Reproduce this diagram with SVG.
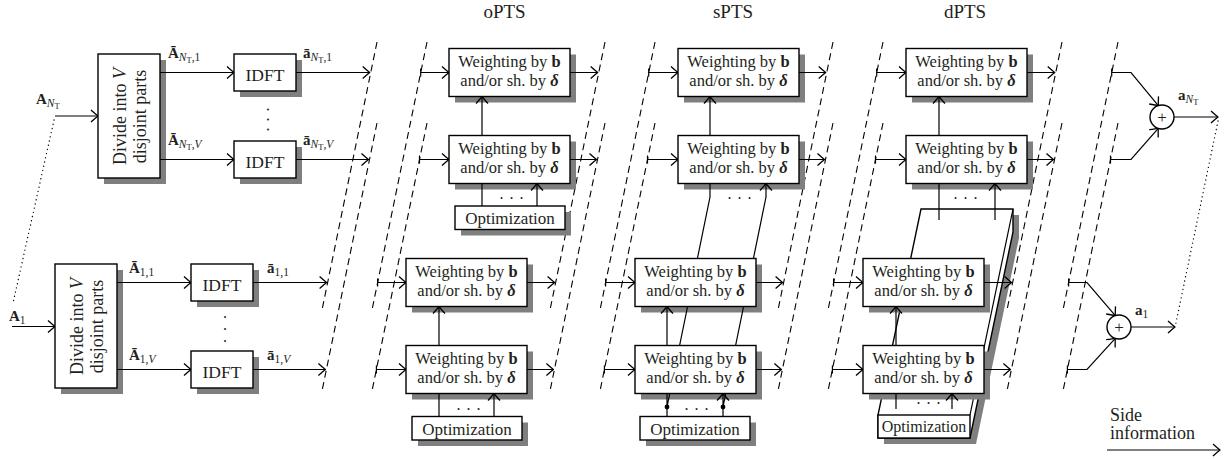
<svg xmlns="http://www.w3.org/2000/svg" width="1225" height="459" viewBox="0 0 1225 459">
<style>
text{font-family:"Liberation Serif","Times New Roman",serif;fill:#231f20}
.box{fill:#fff;stroke:#000;stroke-width:1.4}
.sh{fill:#7f7f7f}
.ln{fill:none;stroke:#000;stroke-width:1.2}
.hd{fill:none;stroke:#000;stroke-width:1.3;stroke-linejoin:round}
.ds{fill:none;stroke:#000;stroke-width:1.1;stroke-dasharray:7 4.5}
.dt{fill:none;stroke:#000;stroke-width:1.3;stroke-dasharray:0.1 4.2;stroke-linecap:round}
.w{font-size:16.5px;text-anchor:middle}
.idft{font-size:17.5px;text-anchor:middle}
.opt{font-size:17px;text-anchor:middle}
.ttl{font-size:19px;text-anchor:middle}
.dv{font-size:18px;text-anchor:middle}
.lb{font-size:15px}
.b{font-weight:bold}
.bi{font-weight:bold;font-style:italic}
.i{font-style:italic}
.s{font-size:11.5px}
.ss{font-size:8.5px}
.dots{font-size:16px;text-anchor:middle;letter-spacing:1px}
.pl{font-size:17px;text-anchor:middle}
</style>
<rect width="1225" height="459" fill="#fff"/>

<g id="titles">
<text class="ttl" x="504.5" y="18">oPTS</text>
<text class="ttl" x="733" y="18">sPTS</text>
<text class="ttl" x="965" y="18">dPTS</text>
</g>

<g id="planes">
<path class="ds" d="M377,42 L322,310 M377,123 L322,391 M427,42 L372,310 M427,123 L372,391"/>
<path class="ds" d="M605,42 L550,310 M605,123 L550,391 M655,42 L600,310 M655,123 L600,391"/>
<path class="ds" d="M833,42 L778,310 M833,123 L778,391 M883,42 L828,310 M883,123 L828,391"/>
<path class="ds" d="M1062,42 L1007,310 M1062,123 L1007,391 M1118,42 L1063,310 M1118,123 L1063,391"/>
<path class="dt" d="M54,120 L13,303"/>
<path class="dt" d="M1218,121 L1175.5,325"/>
</g>

<g id="dpts-optimization">
<polygon class="sh" points="884,444 884,421 927,215 1019,215 1019,238 976,444"/>
<polygon class="box" points="878,438 878,415 921,209 1013,209 1013,232 970,438"/>
<path class="ln" d="M970,415 L1013,209"/>
<rect class="box" x="878" y="415" width="92" height="23"/>
<text class="opt" style="font-size:16px" x="924" y="432">Optimization</text>
</g>

<g id="shadows">
<rect class="sh" x="104" y="60" width="62" height="124"/>
<rect class="sh" x="240" y="60" width="62" height="37"/>
<rect class="sh" x="240" y="147" width="62" height="37"/>
<rect class="sh" x="61" y="270" width="62" height="124"/>
<rect class="sh" x="197" y="270" width="62" height="37"/>
<rect class="sh" x="197" y="357" width="62" height="37"/>
<rect class="sh" x="455" y="54.5" width="121" height="48"/>
<rect class="sh" x="455" y="141.5" width="121" height="48"/>
<rect class="sh" x="461" y="212" width="110" height="23.5"/>
<rect class="sh" x="412" y="264.5" width="121" height="48"/>
<rect class="sh" x="412" y="351.5" width="121" height="48"/>
<rect class="sh" x="418" y="422.5" width="110" height="23.5"/>
<rect class="sh" x="684" y="54.5" width="121" height="48"/>
<rect class="sh" x="684" y="141.5" width="121" height="48"/>
<rect class="sh" x="641" y="264.5" width="121" height="48"/>
<rect class="sh" x="641" y="351.5" width="121" height="48"/>
<rect class="sh" x="646" y="422.5" width="110" height="23.5"/>
<rect class="sh" x="912" y="54.5" width="121" height="48"/>
<rect class="sh" x="912" y="141.5" width="121" height="48"/>
<rect class="sh" x="869" y="264.5" width="121" height="48"/>
<rect class="sh" x="869" y="351.5" width="121" height="48"/>
</g>

<g id="connectors">
<path class="ln" d="M55,116 H98 M160,72.5 H234 M160,159.5 H234 M296,72.5 H369.7 M296,159.5 H368.5 M12,326.5 H55 M117,282.5 H191 M117,369.5 H191 M253,282.5 H326.6 M253,369.5 H325.4"/>
<path class="ln" d="M420.7,72.5 H449 M419.5,159.5 H449 M570,72.5 H597.7 M570,159.5 H596.5 M482,135.5 V96.5 M482,183.5 V206 M537,206 V183.5 M377.6,282.5 H406 M376.4,369.5 H406 M527,282.5 H554.6 M527,369.5 H553.4 M439,345.5 V306.5 M439,393.5 V416.5 M494,416.5 V393.5"/>
<path class="ln" d="M648.7,72.5 H678 M647.5,159.5 H678 M799,72.5 H825.7 M799,159.5 H824.5 M710,135.5 V96.5 M710,183.5 V197 L667,407 M766,197 V183.5 M766,197 L723,407 M605.6,282.5 H635 M604.4,369.5 H635 M756,282.5 H782.6 M756,369.5 H781.4 M667,345.5 V306.5 M667,393.5 V416.5 M723,416.5 V393.5"/>
<path class="ln" d="M876.7,72.5 H906 M875.5,159.5 H906 M1027,72.5 H1054.7 M1027,159.5 H1053.5 M939,135.5 V96.5 M939,183.5 V220 M995,220 V183.5 M833.6,282.5 H863 M832.4,369.5 H863 M984,282.5 H1011.6 M984,369.5 H1010.4 M896,345.5 V306.5 M896,393.5 V409 M952,409 V393.5"/>
<path class="ln" d="M1111.7,72.5 H1131 L1158.3,105.6 M1110.5,159.5 H1131 L1158.3,128.4 M1174,117 H1218 M1068.6,282.5 H1087 L1115.3,315.6 M1067.4,369.5 H1087 L1115.3,338.4 M1131,327 H1175 M1107,450 H1220"/>
<path class="ln" d="M420.7,68.5 v8 M419.5,155.5 v8 M377.6,278.5 v8 M376.4,365.5 v8 M648.7,68.5 v8 M647.5,155.5 v8 M605.6,278.5 v8 M604.4,365.5 v8 M876.7,68.5 v8 M875.5,155.5 v8 M833.6,278.5 v8 M832.4,365.5 v8 M1111.7,68.5 v8 M1110.5,155.5 v8 M1068.6,278.5 v8 M1067.4,365.5 v8"/>
<circle cx="667" cy="407" r="2.4" fill="#000"/>
<circle cx="723" cy="407" r="2.4" fill="#000"/>
<path class="hd" d="M91,110 Q96,114.5 98,116 Q96,117.5 91,122 M227,66.5 Q232,71 234,72.5 Q232,74 227,78.5 M227,153.5 Q232,158 234,159.5 Q232,161 227,165.5 M362.7,66.5 Q367.7,71 369.7,72.5 Q367.7,74 362.7,78.5 M361.5,153.5 Q366.5,158 368.5,159.5 Q366.5,161 361.5,165.5 M48,320.5 Q53,325 55,326.5 Q53,328 48,332.5 M184,276.5 Q189,281 191,282.5 Q189,284 184,288.5 M184,363.5 Q189,368 191,369.5 Q189,371 184,375.5 M319.6,276.5 Q324.6,281 326.6,282.5 Q324.6,284 319.6,288.5 M318.4,363.5 Q323.4,368 325.4,369.5 Q323.4,371 318.4,375.5"/>
<path class="hd" d="M442,66.5 Q447,71 449,72.5 Q447,74 442,78.5 M442,153.5 Q447,158 449,159.5 Q447,161 442,165.5 M590.7,66.5 Q595.7,71 597.7,72.5 Q595.7,74 590.7,78.5 M589.5,153.5 Q594.5,158 596.5,159.5 Q594.5,161 589.5,165.5 M399,276.5 Q404,281 406,282.5 Q404,284 399,288.5 M399,363.5 Q404,368 406,369.5 Q404,371 399,375.5 M547.6,276.5 Q552.6,281 554.6,282.5 Q552.6,284 547.6,288.5 M546.4,363.5 Q551.4,368 553.4,369.5 Q551.4,371 546.4,375.5"/>
<path class="hd" d="M671,66.5 Q676,71 678,72.5 Q676,74 671,78.5 M671,153.5 Q676,158 678,159.5 Q676,161 671,165.5 M818.7,66.5 Q823.7,71 825.7,72.5 Q823.7,74 818.7,78.5 M817.5,153.5 Q822.5,158 824.5,159.5 Q822.5,161 817.5,165.5 M628,276.5 Q633,281 635,282.5 Q633,284 628,288.5 M628,363.5 Q633,368 635,369.5 Q633,371 628,375.5 M775.6,276.5 Q780.6,281 782.6,282.5 Q780.6,284 775.6,288.5 M774.4,363.5 Q779.4,368 781.4,369.5 Q779.4,371 774.4,375.5"/>
<path class="hd" d="M899,66.5 Q904,71 906,72.5 Q904,74 899,78.5 M899,153.5 Q904,158 906,159.5 Q904,161 899,165.5 M1047.7,66.5 Q1052.7,71 1054.7,72.5 Q1052.7,74 1047.7,78.5 M1046.5,153.5 Q1051.5,158 1053.5,159.5 Q1051.5,161 1046.5,165.5 M856,276.5 Q861,281 863,282.5 Q861,284 856,288.5 M856,363.5 Q861,368 863,369.5 Q861,371 856,375.5 M1004.6,276.5 Q1009.6,281 1011.6,282.5 Q1009.6,284 1004.6,288.5 M1003.4,363.5 Q1008.4,368 1010.4,369.5 Q1008.4,371 1003.4,375.5"/>
<path class="hd" d="M1211,111 Q1216,115.5 1218,117 Q1216,118.5 1211,123 M1168,321 Q1173,325.5 1175,327 Q1173,328.5 1168,333 M1213,444 Q1218,448.5 1220,450 Q1218,451.5 1213,456 M1158.5,96.4 Q1158.2,103.1 1158.3,105.6 Q1155.9,105 1149.2,104 M1149.2,129.7 Q1155.9,128.9 1158.3,128.4 Q1158.1,130.9 1158.2,137.6 M1115.5,306.4 Q1115.2,313.1 1115.3,315.6 Q1112.9,315 1106.2,314 M1106.2,339.7 Q1112.9,338.9 1115.3,338.4 Q1115.1,340.9 1115.2,347.6"/>
<path class="hd" d="M476,103.5 Q480.5,98.5 482,96.5 Q483.5,98.5 488,103.5 M531,190.5 Q535.5,185.5 537,183.5 Q538.5,185.5 543,190.5 M433,313.5 Q437.5,308.5 439,306.5 Q440.5,308.5 445,313.5 M488,400.5 Q492.5,395.5 494,393.5 Q495.5,395.5 500,400.5 M704,103.5 Q708.5,98.5 710,96.5 Q711.5,98.5 716,103.5 M760,190.5 Q764.5,185.5 766,183.5 Q767.5,185.5 772,190.5 M661,313.5 Q665.5,308.5 667,306.5 Q668.5,308.5 673,313.5 M717,400.5 Q721.5,395.5 723,393.5 Q724.5,395.5 729,400.5 M933,103.5 Q937.5,98.5 939,96.5 Q940.5,98.5 945,103.5 M989,190.5 Q993.5,185.5 995,183.5 Q996.5,185.5 1001,190.5 M890,313.5 Q894.5,308.5 896,306.5 Q897.5,308.5 902,313.5 M946,400.5 Q950.5,395.5 952,393.5 Q953.5,395.5 958,400.5"/>
</g>

<g id="labels">
<text class="lb" x="36" y="104"><tspan class="b">A</tspan><tspan class="s i" dy="3">N</tspan><tspan class="ss" dy="2">T</tspan></text>
<text class="lb" x="9" y="321"><tspan class="b">A</tspan><tspan class="s" dy="3">1</tspan></text>
<text class="lb" x="168" y="58"><tspan class="b">Ā</tspan><tspan class="s i" dy="3">N</tspan><tspan class="ss" dy="2">T</tspan><tspan class="s" dy="-2">,1</tspan></text>
<text class="lb" x="168" y="145"><tspan class="b">Ā</tspan><tspan class="s i" dy="3">N</tspan><tspan class="ss" dy="2">T</tspan><tspan class="s" dy="-2">,</tspan><tspan class="s i">V</tspan></text>
<text class="lb" x="303" y="58"><tspan class="b">ā</tspan><tspan class="s i" dy="3">N</tspan><tspan class="ss" dy="2">T</tspan><tspan class="s" dy="-2">,1</tspan></text>
<text class="lb" x="303" y="145"><tspan class="b">ā</tspan><tspan class="s i" dy="3">N</tspan><tspan class="ss" dy="2">T</tspan><tspan class="s" dy="-2">,</tspan><tspan class="s i">V</tspan></text>
<text class="lb" x="129" y="273"><tspan class="b">Ā</tspan><tspan class="s" dy="3">1,1</tspan></text>
<text class="lb" x="129" y="360"><tspan class="b">Ā</tspan><tspan class="s" dy="3">1,</tspan><tspan class="s i">V</tspan></text>
<text class="lb" x="267" y="273"><tspan class="b">ā</tspan><tspan class="s" dy="3">1,1</tspan></text>
<text class="lb" x="267" y="360"><tspan class="b">ā</tspan><tspan class="s" dy="3">1,</tspan><tspan class="s i">V</tspan></text>
<text class="lb" x="1178" y="100"><tspan class="b">a</tspan><tspan class="s i" dy="3">N</tspan><tspan class="ss" dy="2">T</tspan></text>
<text class="lb" x="1135" y="315"><tspan class="b">a</tspan><tspan class="s" dy="3">1</tspan></text>
<text class="dots" transform="translate(266.5,120) rotate(90)">. . .</text>
<text class="dots" style="letter-spacing:2px" transform="translate(223.5,330) rotate(90)">. . .</text>
<text class="dots" x="512" y="199">. . .</text>
<text class="dots" x="469" y="410">. . .</text>
<text class="dots" x="740" y="199">. . .</text>
<text class="dots" x="697" y="410">. . .</text>
<text class="dots" x="966" y="199">. . .</text>
<text class="dots" x="929" y="404">. . .</text>
<text x="1110" y="421" style="font-size:18px">Side</text>
<text x="1110" y="439" style="font-size:18px">information</text>
</g>

<g id="divide-NT">
<rect class="box" x="98" y="54" width="62" height="124"/>
<g transform="translate(126,116.5) rotate(-90)"><text class="dv" x="0" y="0">Divide into <tspan class="i">V</tspan></text><text class="dv" x="0" y="20">disjoint parts</text></g>
</g>
<g id="idft-NT-1">
<rect class="box" x="234" y="54" width="62" height="37"/>
<text class="idft" x="265" y="80.5">IDFT</text>
</g>
<g id="idft-NT-V">
<rect class="box" x="234" y="141" width="62" height="37"/>
<text class="idft" x="265" y="167.5">IDFT</text>
</g>
<g id="divide-1">
<rect class="box" x="55" y="264" width="62" height="124"/>
<g transform="translate(83,326.5) rotate(-90)"><text class="dv" x="0" y="0">Divide into <tspan class="i">V</tspan></text><text class="dv" x="0" y="20">disjoint parts</text></g>
</g>
<g id="idft-1-1">
<rect class="box" x="191" y="264" width="62" height="37"/>
<text class="idft" x="222" y="290.5">IDFT</text>
</g>
<g id="idft-1-V">
<rect class="box" x="191" y="351" width="62" height="37"/>
<text class="idft" x="222" y="377.5">IDFT</text>
</g>

<g id="opts-NT-1">
<rect class="box" x="449" y="48.5" width="121" height="48"/>
<text class="w" x="509.5" y="67">Weighting by <tspan class="b">b</tspan></text>
<text class="w" x="509.5" y="86">and/or sh. by <tspan class="bi">δ</tspan></text>
</g>
<g id="opts-NT-V">
<rect class="box" x="449" y="135.5" width="121" height="48"/>
<text class="w" x="509.5" y="154">Weighting by <tspan class="b">b</tspan></text>
<text class="w" x="509.5" y="173">and/or sh. by <tspan class="bi">δ</tspan></text>
</g>
<g id="opts-NT-opt">
<rect class="box" x="455" y="206" width="110" height="23.5"/>
<text class="opt" x="510" y="224">Optimization</text>
</g>
<g id="opts-1-1">
<rect class="box" x="406" y="258.5" width="121" height="48"/>
<text class="w" x="466.5" y="277">Weighting by <tspan class="b">b</tspan></text>
<text class="w" x="466.5" y="296">and/or sh. by <tspan class="bi">δ</tspan></text>
</g>
<g id="opts-1-V">
<rect class="box" x="406" y="345.5" width="121" height="48"/>
<text class="w" x="466.5" y="364">Weighting by <tspan class="b">b</tspan></text>
<text class="w" x="466.5" y="383">and/or sh. by <tspan class="bi">δ</tspan></text>
</g>
<g id="opts-1-opt">
<rect class="box" x="412" y="416.5" width="110" height="23.5"/>
<text class="opt" x="467" y="434.5">Optimization</text>
</g>

<g id="spts-NT-1">
<rect class="box" x="678" y="48.5" width="121" height="48"/>
<text class="w" x="738.5" y="67">Weighting by <tspan class="b">b</tspan></text>
<text class="w" x="738.5" y="86">and/or sh. by <tspan class="bi">δ</tspan></text>
</g>
<g id="spts-NT-V">
<rect class="box" x="678" y="135.5" width="121" height="48"/>
<text class="w" x="738.5" y="154">Weighting by <tspan class="b">b</tspan></text>
<text class="w" x="738.5" y="173">and/or sh. by <tspan class="bi">δ</tspan></text>
</g>
<g id="spts-1-1">
<rect class="box" x="635" y="258.5" width="121" height="48"/>
<text class="w" x="695.5" y="277">Weighting by <tspan class="b">b</tspan></text>
<text class="w" x="695.5" y="296">and/or sh. by <tspan class="bi">δ</tspan></text>
</g>
<g id="spts-1-V">
<rect class="box" x="635" y="345.5" width="121" height="48"/>
<text class="w" x="695.5" y="364">Weighting by <tspan class="b">b</tspan></text>
<text class="w" x="695.5" y="383">and/or sh. by <tspan class="bi">δ</tspan></text>
</g>
<g id="spts-opt">
<rect class="box" x="640" y="416.5" width="110" height="23.5"/>
<text class="opt" x="695" y="434.5">Optimization</text>
</g>

<g id="dpts-NT-1">
<rect class="box" x="906" y="48.5" width="121" height="48"/>
<text class="w" x="966.5" y="67">Weighting by <tspan class="b">b</tspan></text>
<text class="w" x="966.5" y="86">and/or sh. by <tspan class="bi">δ</tspan></text>
</g>
<g id="dpts-NT-V">
<rect class="box" x="906" y="135.5" width="121" height="48"/>
<text class="w" x="966.5" y="154">Weighting by <tspan class="b">b</tspan></text>
<text class="w" x="966.5" y="173">and/or sh. by <tspan class="bi">δ</tspan></text>
</g>
<g id="dpts-1-1">
<rect class="box" x="863" y="258.5" width="121" height="48"/>
<text class="w" x="923.5" y="277">Weighting by <tspan class="b">b</tspan></text>
<text class="w" x="923.5" y="296">and/or sh. by <tspan class="bi">δ</tspan></text>
</g>
<g id="dpts-1-V">
<rect class="box" x="863" y="345.5" width="121" height="48"/>
<text class="w" x="923.5" y="364">Weighting by <tspan class="b">b</tspan></text>
<text class="w" x="923.5" y="383">and/or sh. by <tspan class="bi">δ</tspan></text>
</g>

<g id="sum-NT">
<circle class="box" cx="1162" cy="117" r="12"/>
<text class="pl" x="1162" y="122.5">+</text>
</g>
<g id="sum-1">
<circle class="box" cx="1119" cy="327" r="12"/>
<text class="pl" x="1119" y="332.5">+</text>
</g>
</svg>
